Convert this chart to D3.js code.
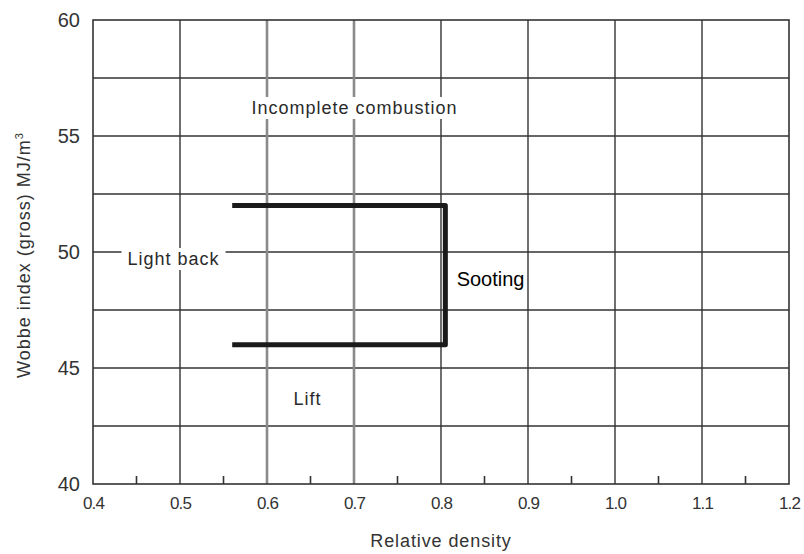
<!DOCTYPE html>
<html lang="en">
<head>
  <meta charset="UTF-8">
  <title>Wobbe index vs relative density</title>
  <script src="https://d3js.org/d3.v7.min.js"></script>
  <style>
    body { margin: 0; background: #fff; }
    text { font-family: "Liberation Sans", Arial, sans-serif; }
  </style>
</head>
<body>
  <svg width="804" height="554"></svg>

  <script>
    // Axis ticks
    var xTicks = [0.4, 0.5, 0.6, 0.7, 0.8, 0.9, 1.0, 1.1, 1.2];
    var xMinorTicks = [0.45, 0.55, 0.65, 0.75, 0.85, 0.95, 1.05, 1.15];
    var yTicks = [40, 45, 50, 55, 60];
    var yGrid = [42.5, 45, 47.5, 50, 52.5, 55, 57.5];
    var greyGrid = [0.6, 0.7];

    // Operating envelope (open on the left)
    var envelope = [
      { x: 0.56, y: 52 },
      { x: 0.805, y: 52 },
      { x: 0.805, y: 46 },
      { x: 0.56, y: 46 }
    ];

    // Region labels
    var labels = [
      { text: "Incomplete combustion", x: 0.70, y: 55.95, size: 18, spacing: 1.0, color: "#2a2a2a", bg: true },
      { text: "Light back", x: 0.492, y: 49.44, size: 18, spacing: 1.0, color: "#2a2a2a", bg: true },
      { text: "Sooting", x: 0.857, y: 48.53, size: 20, spacing: 0, color: "#000", bg: false },
      { text: "Lift", x: 0.646, y: 43.4, size: 18, spacing: 1.0, color: "#2a2a2a", bg: false }
    ];

    var svg = d3.select("svg");
    var margin = { top: 20, right: 15, bottom: 70, left: 93 };
    var width = 804 - margin.left - margin.right,
        height = 554 - margin.top - margin.bottom;

    var g = svg.append("g")
        .attr("transform", "translate(" + margin.left + "," + margin.top + ")");

    var x = d3.scaleLinear().domain([0.4, 1.2]).range([0, width]);
    var y = d3.scaleLinear().domain([40, 60]).range([height, 0]);

    // horizontal grid
    g.append("g").selectAll("line")
        .data(yGrid)
        .enter().append("line")
        .attr("x1", 0).attr("x2", width)
        .attr("y1", d => y(d)).attr("y2", d => y(d))
        .attr("stroke", "#333").attr("stroke-width", 1.4);

    // vertical grid
    g.append("g").selectAll("line")
        .data(xTicks.slice(1, -1))
        .enter().append("line")
        .attr("x1", d => x(d)).attr("x2", d => x(d))
        .attr("y1", 0).attr("y2", height)
        .attr("stroke", d => greyGrid.includes(d) ? "#8a8a8a" : "#333")
        .attr("stroke-width", d => greyGrid.includes(d) ? 2.6 : 1.4);

    // frame
    g.append("rect")
        .attr("width", width).attr("height", height)
        .attr("fill", "none").attr("stroke", "#333").attr("stroke-width", 1.6);

    // bottom axis with minor ticks pointing inside
    var xAxis = g.append("g")
        .attr("transform", "translate(0," + height + ")")
        .call(d3.axisBottom(x).tickValues(xTicks).tickSize(0).tickPadding(13)
          .tickFormat(d3.format(".1f")));
    xAxis.select(".domain").remove();
    xAxis.selectAll("text")
        .attr("font-size", 17).attr("fill", "#333")
        .attr("letter-spacing", -0.8);

    g.append("g").selectAll("line")
        .data(xMinorTicks)
        .enter().append("line")
        .attr("x1", d => x(d)).attr("x2", d => x(d))
        .attr("y1", height).attr("y2", height - 8)
        .attr("stroke", "#333").attr("stroke-width", 1.6);

    // left axis labels
    var yAxis = g.append("g")
        .call(d3.axisLeft(y).tickValues(yTicks).tickSize(0).tickPadding(13));
    yAxis.select(".domain").remove();
    yAxis.selectAll("text")
        .attr("font-size", 20).attr("fill", "#333");

    // envelope line
    g.append("path")
        .datum(envelope)
        .attr("d", d3.line().x(d => x(d.x)).y(d => y(d.y)))
        .attr("fill", "none")
        .attr("stroke", "#1a1a1a")
        .attr("stroke-width", 5)
        .attr("stroke-linejoin", "round");

    // region labels, some with a white background
    var lab = g.append("g").selectAll("g")
        .data(labels)
        .enter().append("g");

    lab.append("text")
        .attr("x", d => x(d.x) + d.spacing / 2)
        .attr("y", d => y(d.y))
        .attr("text-anchor", "middle")
        .attr("font-size", d => d.size)
        .attr("letter-spacing", d => d.spacing)
        .attr("fill", d => d.color)
        .text(d => d.text);

    lab.each(function(d) {
      if (!d.bg) return;
      var t = d3.select(this).select("text");
      var b = t.node().getBBox();
      d3.select(this).insert("rect", "text")
          .attr("x", b.x - 6).attr("y", b.y - 1)
          .attr("width", b.width + 12).attr("height", b.height + 2)
          .attr("fill", "#fff");
    });

    // axis titles
    svg.append("text")
        .attr("x", margin.left + width / 2)
        .attr("y", 547)
        .attr("text-anchor", "middle")
        .attr("font-size", 18)
        .attr("letter-spacing", 0.9)
        .attr("fill", "#333")
        .text("Relative density");

    svg.append("text")
        .attr("transform", "translate(30,255) rotate(-90)")
        .attr("text-anchor", "middle")
        .attr("font-size", 18)
        .attr("letter-spacing", 1)
        .attr("fill", "#333")
        .html("Wobbe index (gross) MJ/m<tspan dy='-7' font-size='11'>3</tspan>");
  </script>
</body>
</html>
